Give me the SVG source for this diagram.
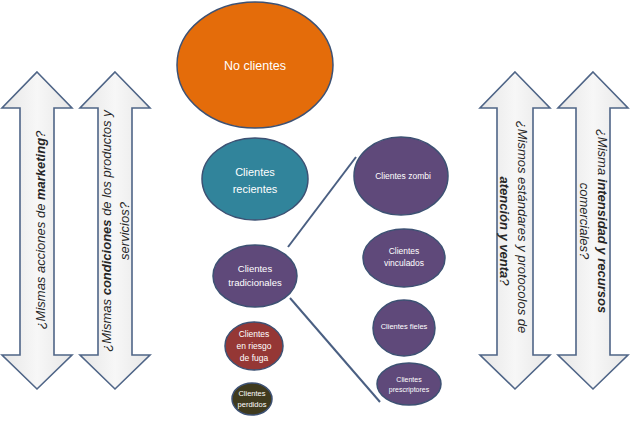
<svg xmlns="http://www.w3.org/2000/svg" width="630" height="429" viewBox="0 0 630 429">
<defs>
<linearGradient id="ag" x1="0" y1="0" x2="1" y2="0">
<stop offset="0" stop-color="#e6e6e6"/>
<stop offset="0.5" stop-color="#f7f7f7"/>
<stop offset="1" stop-color="#e6e6e6"/>
</linearGradient>
</defs>
<style>
.arrow{fill:url(#ag);stroke:#4f6587;stroke-width:1.6;stroke-linejoin:miter}
.q{font-family:"Liberation Sans",Arial,sans-serif;font-size:13px;font-style:italic;fill:#262626;text-anchor:middle}
.b{font-weight:bold}
.node ellipse{stroke:#3d5173;stroke-width:1.5}
.t{font-family:"Liberation Sans",Arial,sans-serif;fill:#ffffff;text-anchor:middle}
.conn line{stroke:#4a5f82;stroke-width:2}
</style>
<rect width="630" height="429" fill="#ffffff"/>

<g id="arrow-marketing">
<path class="arrow" d="M37,72 L72,108 L54,108 L54,355 L72,355 L37,389 L2,355 L20,355 L20,108 L2,108 Z"/>
<text class="q" transform="translate(45,230) rotate(-90)">¿Mismas acciones de <tspan class="b">marketing</tspan>?</text>
</g>
<g id="arrow-condiciones">
<path class="arrow" d="M115,72 L150,108 L132,108 L132,355 L150,355 L115,389 L80,355 L98,355 L98,108 L80,108 Z"/>
<text class="q" transform="translate(111,231) rotate(-90)">¿Mismas <tspan class="b">condiciones</tspan> de los productos y</text>
<text class="q" transform="translate(129,231) rotate(-90)">servicios?</text>
</g>
<g id="arrow-atencion">
<path class="arrow" d="M515,72 L550,108 L533,108 L533,355 L550,355 L515,389 L480,355 L497,355 L497,108 L480,108 Z"/>
<text class="q" transform="translate(518,227) rotate(90)" font-size="14">¿Mismos estándares y protocolos de</text>
<text class="q" transform="translate(500,231) rotate(90)"><tspan class="b">atención y venta</tspan>?</text>
</g>
<g id="arrow-intensidad">
<path class="arrow" d="M593,72 L628,108 L610,108 L610,355 L628,355 L593,389 L558,355 L576,355 L576,108 L558,108 Z"/>
<text class="q" transform="translate(598,221) rotate(90)" font-size="12.5">¿Misma <tspan class="b">intensidad y recursos</tspan></text>
<text class="q" transform="translate(580,221) rotate(90)">comerciales?</text>
</g>

<g class="conn" id="connectors">
<line x1="288" y1="247" x2="356" y2="157"/>
<line x1="290" y1="298" x2="380" y2="402"/>
</g>

<g class="node" id="no-clientes">
<ellipse cx="255" cy="65" rx="78" ry="63" fill="#e46c0a"/>
<text class="t" x="255" y="70" font-size="12.5">No clientes</text>
</g>
<g class="node" id="clientes-recientes">
<ellipse cx="255" cy="179" rx="53" ry="41" fill="#31849b"/>
<text class="t" x="255" y="176" font-size="11">Clientes</text>
<text class="t" x="255" y="193" font-size="11">recientes</text>
</g>
<g class="node" id="clientes-tradicionales">
<ellipse cx="255" cy="276" rx="42" ry="31" fill="#5f497a"/>
<text class="t" x="255" y="272" font-size="9.5">Clientes</text>
<text class="t" x="255" y="286" font-size="9.5">tradicionales</text>
</g>
<g class="node" id="clientes-riesgo">
<ellipse cx="254" cy="346" rx="29" ry="24" fill="#953735"/>
<text class="t" x="254" y="337" font-size="8.5">Clientes</text>
<text class="t" x="254" y="349" font-size="8.5">en riesgo</text>
<text class="t" x="254" y="361" font-size="8.5">de fuga</text>
</g>
<g class="node" id="clientes-perdidos">
<ellipse cx="252" cy="399" rx="20" ry="16" fill="#3f3a1e"/>
<text class="t" x="252" y="396" font-size="7.5">Clientes</text>
<text class="t" x="252" y="407" font-size="7.5">perdidos</text>
</g>
<g class="node" id="clientes-zombi">
<ellipse cx="401" cy="176" rx="47" ry="39" fill="#5f497a"/>
<text class="t" x="403" y="179" font-size="8.5">Clientes zombi</text>
</g>
<g class="node" id="clientes-vinculados">
<ellipse cx="404" cy="258" rx="41" ry="29" fill="#5f497a"/>
<text class="t" x="404" y="254" font-size="8.5">Clientes</text>
<text class="t" x="404" y="266" font-size="8.5">vinculados</text>
</g>
<g class="node" id="clientes-fieles">
<ellipse cx="404" cy="328" rx="31" ry="28" fill="#5f497a"/>
<text class="t" x="404" y="329" font-size="7.5">Clientes fieles</text>
</g>
<g class="node" id="clientes-prescriptores">
<ellipse cx="409" cy="384" rx="32" ry="21" fill="#5f497a"/>
<text class="t" x="409" y="382" font-size="7">Clientes</text>
<text class="t" x="409" y="392" font-size="7">prescriptores</text>
</g>
</svg>
